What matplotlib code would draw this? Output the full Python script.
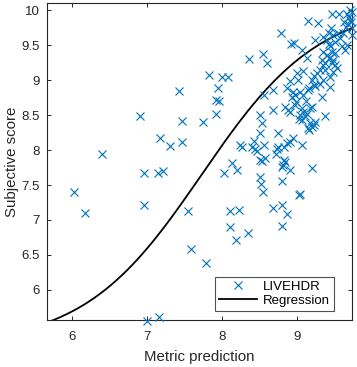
import numpy as np
import matplotlib
matplotlib.use("Agg")
import matplotlib.pyplot as plt

plt.rcParams['font.family'] = ['Liberation Sans', 'DejaVu Sans']

# scatter data (metric prediction, subjective score)
metric = [
    6.03, 6.18, 6.40, 6.91, 6.96, 6.96, 7.00, 7.15, 7.21, 7.16,
    7.18, 7.30, 7.47, 7.46, 7.43, 7.55, 7.59, 7.74, 7.78, 7.83,
    8.00, 8.08, 7.94, 7.92, 7.96, 7.92, 8.02, 8.13, 8.20, 8.11,
    8.22, 8.10, 8.19, 8.34, 8.24, 8.26, 8.42, 8.40, 8.44, 8.46,
    8.56, 8.51, 8.53, 8.57, 8.51, 8.52, 8.54, 8.68, 8.50, 8.53,
    8.50, 8.56, 8.68, 8.68, 8.36, 8.54, 8.60, 8.78, 8.92, 8.96,
    9.06, 9.14, 9.28, 9.47, 9.56, 9.24, 9.45, 9.67, 9.69, 9.71,
    9.72, 9.68, 9.65, 9.73, 9.73, 9.63, 9.71, 9.61, 9.73, 9.42,
    9.48, 9.55, 9.35, 9.40, 9.42, 9.44, 9.51, 9.57, 9.60, 9.64,
    9.66, 9.46, 9.51, 9.35, 9.40, 9.43, 9.13, 9.33, 9.37, 9.46,
    9.51, 9.53, 9.48, 9.35, 9.08, 8.91, 9.01, 9.20, 9.22, 9.16,
    9.31, 9.35, 9.44, 9.26, 9.31, 8.87, 8.95, 8.97, 8.93, 9.04,
    9.08, 9.15, 9.33, 8.84, 8.88, 8.91, 8.97, 9.06, 9.08, 9.13,
    9.17, 9.20, 9.11, 9.04, 9.02, 9.37, 9.06, 9.17, 9.22, 9.14,
    9.16, 9.20, 9.24, 8.75, 9.06, 8.95, 8.91, 8.86, 8.82, 8.75,
    8.73, 8.72, 8.82, 8.84, 8.81, 8.80, 8.90, 9.20, 8.80, 9.02,
    9.04, 8.80, 8.87, 8.80, 9.00, 9.23, 9.24, 8.99, 9.12, 9.48,
    9.44, 9.37,
]
score = [
    7.40, 7.10, 7.95, 8.48, 7.67, 7.21, 5.56, 7.67, 7.70, 5.62,
    8.17, 8.06, 8.11, 8.41, 8.85, 7.13, 6.59, 8.40, 6.39, 9.07,
    9.05, 9.04, 8.88, 8.72, 8.70, 8.52, 7.67, 7.81, 7.71, 7.13,
    7.14, 6.90, 6.71, 6.82, 8.07, 8.05, 8.13, 8.05, 8.01, 7.99,
    8.07, 7.86, 7.84, 7.88, 7.62, 7.51, 7.40, 7.17, 8.50, 8.38,
    8.24, 8.78, 8.86, 8.57, 9.30, 9.37, 9.25, 9.67, 9.52, 9.53,
    9.43, 9.85, 9.82, 9.95, 9.94, 9.57, 9.74, 9.94, 9.90, 9.86,
    9.83, 9.80, 9.76, 9.97, 9.74, 9.83, 10.00, 9.67, 9.64, 9.67,
    9.65, 9.67, 9.62, 9.57, 9.52, 9.48, 9.55, 9.60, 9.48, 9.43,
    9.50, 9.40, 9.38, 9.40, 9.36, 9.31, 9.31, 9.29, 9.25, 9.24,
    9.21, 9.17, 9.29, 9.21, 9.13, 8.99, 9.00, 9.00, 8.93, 8.88,
    8.95, 9.00, 8.90, 9.10, 9.14, 8.88, 8.83, 8.79, 8.76, 8.83,
    8.79, 8.86, 8.76, 8.62, 8.57, 8.55, 8.64, 8.60, 8.55, 8.52,
    8.60, 8.62, 8.48, 8.50, 8.45, 8.49, 8.43, 8.38, 8.36, 8.31,
    8.29, 8.33, 8.40, 8.24, 8.07, 8.17, 8.12, 8.10, 8.05, 8.05,
    8.02, 7.94, 7.86, 7.83, 7.79, 7.76, 7.71, 7.75, 7.56, 7.36,
    7.37, 7.22, 7.08, 6.91, 9.10, 9.06, 8.91, 8.68, 8.70, 9.12,
    9.05, 9.14,
]

# logistic regression curve: low, high, centre, scale
fit_low, fit_high, fit_mid, fit_scale = 5.2, 10.1, 7.73, 0.79

blue = (0, 0.447, 0.741)
dark = (0.15, 0.15, 0.15)

fig = plt.figure(figsize=(3.57, 3.67), dpi=100)
ax = fig.add_axes([0.1317, 0.128, 0.853, 0.8638])

ax.plot(metric, score, 'x', color=blue, markersize=6, markeredgewidth=0.8,
        label='LIVEHDR', clip_on=False, zorder=3)

xs = np.linspace(5.5, 9.8, 300)
ys = fit_low + (fit_high - fit_low) / (1 + np.exp(-(xs - fit_mid) / fit_scale))
ax.plot(xs, ys, color='black', lw=1.3, label='Regression', zorder=2)

ax.set_xlim(5.667, 9.727)
ax.set_ylim(5.571, 10.1)
ax.set_xticks([6, 7, 8, 9])
ax.set_yticks([6, 6.5, 7, 7.5, 8, 8.5, 9, 9.5, 10])
ax.set_yticklabels(['6', '6.5', '7', '7.5', '8', '8.5', '9', '9.5', '10'])
ax.tick_params(direction='in', top=True, right=True, length=3, width=0.7,
               color=dark, labelcolor=dark, labelsize=9.5)
ax.tick_params(axis='x', pad=8)
ax.tick_params(axis='y', pad=5)
for s in ax.spines.values():
    s.set_color(dark)
    s.set_linewidth(0.8)

ax.set_xlabel('Metric prediction', fontsize=10.8, color=dark, labelpad=5)
ax.set_ylabel('Subjective score', fontsize=10.8, color=dark, labelpad=2)

leg = ax.legend(loc='lower right', bbox_to_anchor=(0.9435, 0.0284),
                borderaxespad=0, fontsize=9.5, frameon=True, fancybox=False,
                handlelength=2.9, handletextpad=0.5, borderpad=0.3,
                labelspacing=0.15)
leg.get_frame().set_edgecolor(dark)
leg.get_frame().set_linewidth(0.8)

fig.savefig('out.png', dpi=100)
